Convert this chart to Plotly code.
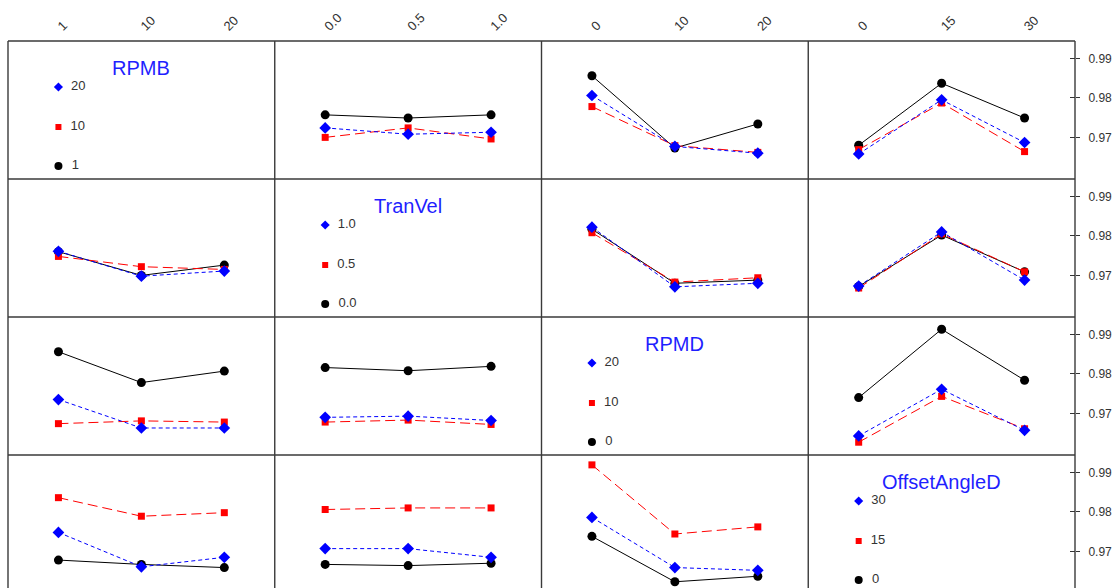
import plotly.graph_objects as go

# ---------------- data ----------------
factor_names = ["RPMB", "TranVel", "RPMD", "OffsetAngleD"]
rpmb_levels = ["1", "10", "20"]
tranvel_levels = ["0.0", "0.5", "1.0"]
rpmd_levels = ["0", "10", "20"]
offset_levels = ["0", "15", "30"]
y_ticks = [0.97, 0.98, 0.99]

# each panel: [low level (black), mid level (red), high level (blue)]
rpmb_vs_tranvel = [[0.9757, 0.9749, 0.9757], [0.9700, 0.9724, 0.9696], [0.9724, 0.9708, 0.9713]]
rpmb_vs_rpmd = [[0.9856, 0.9673, 0.9734], [0.9778, 0.9679, 0.9662], [0.9806, 0.9677, 0.9660]]
rpmb_vs_offset = [[0.9680, 0.9837, 0.9749], [0.9669, 0.9787, 0.9664], [0.9658, 0.9795, 0.9687]]

tranvel_vs_rpmb = [[0.9760, 0.9700, 0.9726], [0.9748, 0.9722, 0.9715], [0.9761, 0.9698, 0.9711]]
tranvel_vs_rpmd = [[0.9817, 0.9680, 0.9688], [0.9808, 0.9683, 0.9694], [0.9822, 0.9671, 0.9680]]
tranvel_vs_offset = [[0.9672, 0.9802, 0.9709], [0.9668, 0.9805, 0.9709], [0.9673, 0.9810, 0.9688]]

rpmd_vs_rpmb = [[0.9856, 0.9778, 0.9807], [0.9674, 0.9681, 0.9678], [0.9735, 0.9663, 0.9663]]
rpmd_vs_tranvel = [[0.9816, 0.9808, 0.9819], [0.9678, 0.9683, 0.9672], [0.9690, 0.9693, 0.9682]]
rpmd_vs_offset = [[0.9740, 0.9913, 0.9784], [0.9627, 0.9743, 0.9661], [0.9643, 0.9761, 0.9657]]

offset_vs_rpmb = [[0.9678, 0.9667, 0.9659], [0.9836, 0.9789, 0.9798], [0.9748, 0.9661, 0.9685]]
offset_vs_tranvel = [[0.9667, 0.9664, 0.9670], [0.9806, 0.9810, 0.9810], [0.9707, 0.9707, 0.9685]]
offset_vs_rpmd = [[0.9738, 0.9623, 0.9637], [0.9919, 0.9744, 0.9762], [0.9786, 0.9659, 0.9652]]

# ---------------- assembly ----------------
levels = [rpmb_levels, tranvel_levels, rpmd_levels, offset_levels]
panels = {
    (0, 1): rpmb_vs_tranvel, (0, 2): rpmb_vs_rpmd, (0, 3): rpmb_vs_offset,
    (1, 0): tranvel_vs_rpmb, (1, 2): tranvel_vs_rpmd, (1, 3): tranvel_vs_offset,
    (2, 0): rpmd_vs_rpmb, (2, 1): rpmd_vs_tranvel, (2, 3): rpmd_vs_offset,
    (3, 0): offset_vs_rpmb, (3, 1): offset_vs_tranvel, (3, 2): offset_vs_rpmd,
}

W, H = 1119, 588
ML, MR, MT, MB = 8, 44, 41, 0
plot_h = H - MT - MB
row_px = 138
px_per_unit = 39.5 / 0.01
y_top = 0.9944

colors = ["#000000", "#ff0000", "#0000ff"]
symbols = ["circle", "square", "diamond"]
msizes = [9, 7, 9]
dashes = ["solid", "10px,5px", "4px,3px"]
lsizes = [8, 6, 7]

fig = go.Figure()
layout = dict(
    width=W, height=H,
    margin=dict(l=ML, r=MR, t=MT, b=MB, pad=0),
    paper_bgcolor="white", plot_bgcolor="white",
    showlegend=False,
    font=dict(family="Arial, Liberation Sans, sans-serif", color="#333333"),
)
annotations = []
shapes = []

for r in range(4):
    top_px = MT + r * row_px
    bot_px = min(top_px + row_px, H - MB)
    h_px = bot_px - top_px
    y0 = (H - MB - bot_px) / plot_h
    y1 = (H - MB - top_px) / plot_h
    y_bot = y_top - h_px / px_per_unit
    for c in range(4):
        k = r * 4 + c + 1
        xs = "" if k == 1 else str(k)
        xa = dict(
            domain=[c / 4, (c + 1) / 4], anchor="y" + xs,
            range=[-0.608, 2.608], showgrid=False, zeroline=False,
            showline=False, fixedrange=True,
        )
        if r == 0:
            xa.update(side="top", tickmode="array", tickvals=[0, 1, 2],
                      ticktext=levels[c], tickangle=-45, ticks="",
                      ticklabelstandoff=4,
                      tickfont=dict(size=13, color="#333333"), showticklabels=True)
        else:
            xa.update(showticklabels=False, ticks="")
        ya = dict(
            domain=[y0, y1], anchor="x" + xs, range=[y_bot, y_top],
            showgrid=False, zeroline=False, showline=False, fixedrange=True,
        )
        if c == 3:
            ya.update(side="right", tickmode="array", tickvals=y_ticks,
                      ticktext=[f"{v:.2f}" for v in y_ticks], ticks="outside",
                      ticklen=4, tickwidth=1, tickcolor="#333333",
                      ticklabelstandoff=6,
                      minor=dict(ticks="inside", tickvals=y_ticks, ticklen=5,
                                 tickwidth=1, tickcolor="#333333", showgrid=False),
                      tickfont=dict(size=12, color="#333333"))
        else:
            ya.update(showticklabels=False, ticks="")
        layout["xaxis" + xs] = xa
        layout["yaxis" + xs] = ya

        if r == c:
            # legend panel
            per_px = 1 / px_per_unit
            ys = [y_top - off * per_px for off in (125, 86, 46)]
            for i in range(3):
                fig.add_trace(go.Scatter(
                    x=[0], y=[ys[i]], xaxis="x" + xs, yaxis="y" + xs,
                    mode="markers+text", text=["  " + levels[r][i]],
                    textposition="middle right",
                    textfont=dict(size=13, color="#333333"),
                    marker=dict(symbol=symbols[i], color=colors[i], size=lsizes[i]),
                    hoverinfo="skip", cliponaxis=False,
                ))
            annotations.append(dict(
                x=1, y=y_top - 27 * per_px, xref="x" + xs, yref="y" + xs,
                text=factor_names[r], showarrow=False,
                font=dict(size=20, color="#1f1fff"),
                xanchor="center", yanchor="middle",
            ))
        else:
            series = panels[(r, c)]
            for i in range(3):
                fig.add_trace(go.Scatter(
                    x=[0, 1, 2], y=series[i], xaxis="x" + xs, yaxis="y" + xs,
                    mode="lines+markers",
                    line=dict(color=colors[i], width=1, dash=dashes[i]),
                    marker=dict(symbol=symbols[i], color=colors[i], size=msizes[i]),
                    name=levels[r][i], cliponaxis=False,
                ))

# panel borders
bc = "#3a3a3a"
for c in range(5):
    shapes.append(dict(type="line", xref="paper", yref="paper",
                       x0=c / 4, x1=c / 4, y0=0, y1=1,
                       line=dict(color=bc, width=1.4)))
for r in range(4):
    yp = (H - MB - (MT + r * row_px)) / plot_h
    shapes.append(dict(type="line", xref="paper", yref="paper",
                       x0=0, x1=1, y0=yp, y1=yp,
                       line=dict(color=bc, width=1.4)))

layout["annotations"] = annotations
layout["shapes"] = shapes
fig.update_layout(**layout)
fig.write_html("out.html")
